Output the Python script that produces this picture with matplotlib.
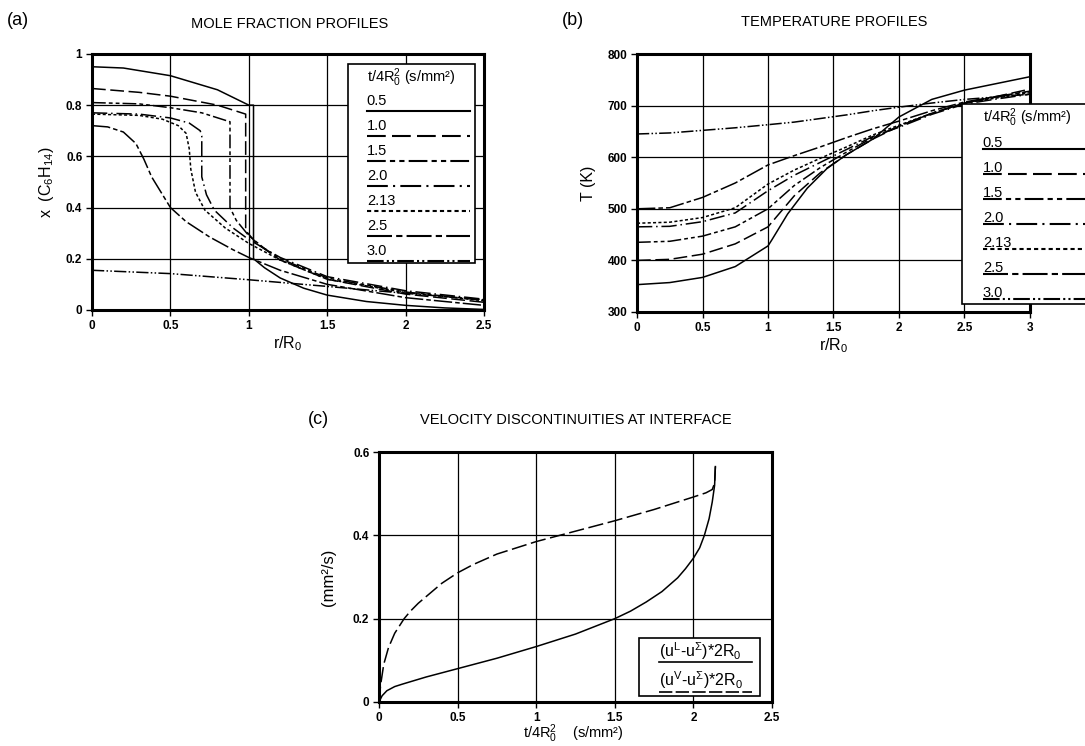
import matplotlib
matplotlib.use('Agg')
import matplotlib.pyplot as plt
from matplotlib.patches import Rectangle

plt.rcParams['font.family'] = ['Liberation Sans', 'DejaVu Sans']
plt.rcParams['mathtext.fontset'] = 'custom'
plt.rcParams['mathtext.rm'] = 'Liberation Sans'
plt.rcParams['mathtext.it'] = 'Liberation Sans'

# ---- (a) mole fraction profiles ----
times = ['0.5', '1.0', '1.5', '2.0', '2.13', '2.5', '3.0']
r_a = {
    '0.5': [0, 0.2, 0.5, 0.8, 1.0, 1.03, 1.03, 1.1, 1.2, 1.35, 1.5, 1.75, 2.0, 2.25, 2.5],
    '1.0': [0, 0.3, 0.5, 0.8, 0.98, 0.98, 1.05, 1.2, 1.5, 2.0, 2.5],
    '1.5': [0, 0.3, 0.5, 0.7, 0.88, 0.88, 0.92, 1.0, 1.1, 1.2, 1.5, 2.0, 2.5],
    '2.0': [0, 0.3, 0.5, 0.62, 0.69, 0.70, 0.70, 0.73, 0.78, 0.9, 1.0, 1.2, 1.5, 2.0, 2.5],
    '2.13': [0, 0.3, 0.45, 0.55, 0.6, 0.62, 0.63, 0.66, 0.72, 0.85, 1.0, 1.2, 1.5, 2.0, 2.5],
    '2.5': [0, 0.1, 0.2, 0.28, 0.33, 0.38, 0.45, 0.5, 0.6, 0.75, 0.9, 1.0, 1.2, 1.5, 2.0, 2.5],
    '3.0': [0, 0.5, 1.0, 1.5, 2.0, 2.5],
}
x_a = {
    '0.5': [0.95, 0.945, 0.915, 0.86, 0.80, 0.80, 0.20, 0.165, 0.125, 0.085, 0.058, 0.033, 0.018, 0.008, 0.002],
    '1.0': [0.865, 0.85, 0.835, 0.80, 0.765, 0.31, 0.26, 0.195, 0.12, 0.062, 0.03],
    '1.5': [0.81, 0.805, 0.79, 0.77, 0.735, 0.40, 0.35, 0.29, 0.24, 0.20, 0.125, 0.07, 0.038],
    '2.0': [0.77, 0.765, 0.75, 0.73, 0.70, 0.68, 0.52, 0.45, 0.39, 0.32, 0.275, 0.205, 0.13, 0.075, 0.042],
    '2.13': [0.765, 0.76, 0.745, 0.72, 0.69, 0.63, 0.55, 0.46, 0.39, 0.32, 0.26, 0.195, 0.12, 0.068, 0.036],
    '2.5': [0.72, 0.715, 0.695, 0.65, 0.59, 0.52, 0.45, 0.40, 0.345, 0.285, 0.235, 0.205, 0.155, 0.10, 0.048, 0.018],
    '3.0': [0.155, 0.142, 0.118, 0.092, 0.065, 0.04],
}

# ---- (b) temperature profiles ----
r_b05 = [0, 0.25, 0.5, 0.75, 1.0, 1.03, 1.15, 1.3, 1.45, 1.6, 1.8, 2.0, 2.25, 2.5, 2.75, 3.0]
T_b05 = [353, 357, 367, 388, 428, 440, 490, 540, 578, 605, 635, 678, 712, 730, 743, 756]
r_b = [0, 0.25, 0.5, 0.75, 1.0, 1.2, 1.4, 1.6, 1.8, 2.0, 2.25, 2.5, 2.75, 3.0]
T_b = {
    '1.0': [400, 402, 412, 432, 465, 525, 570, 605, 635, 660, 685, 705, 718, 732],
    '1.5': [435, 437, 447, 465, 500, 545, 580, 610, 638, 660, 685, 705, 717, 727],
    '2.0': [465, 466, 475, 492, 535, 565, 590, 615, 640, 658, 683, 703, 713, 722],
    '2.13': [472, 474, 483, 502, 548, 575, 598, 620, 643, 662, 685, 705, 715, 725],
    '2.5': [500, 502, 522, 550, 585, 603, 620, 638, 655, 670, 690, 707, 718, 728],
    '3.0': [645, 647, 652, 657, 663, 668, 675, 682, 690, 697, 705, 712, 717, 722],
}

# ---- (c) velocity discontinuities ----
t_L = [0, 0.01, 0.03, 0.06, 0.1, 0.16, 0.2, 0.25, 0.3, 0.4, 0.5, 0.6, 0.75, 1.0, 1.25,
       1.5, 1.75, 2.0, 2.08, 2.12, 2.135, 2.14]
u_L = [0, 0.04, 0.09, 0.13, 0.165, 0.2, 0.218, 0.237, 0.253, 0.285, 0.31, 0.33, 0.355,
       0.385, 0.41, 0.435, 0.462, 0.492, 0.502, 0.51, 0.525, 0.565]
t_V = [0, 0.02, 0.05, 0.1, 0.15, 0.3, 0.5, 0.75, 1.0, 1.25, 1.5, 1.6, 1.7, 1.8, 1.9, 1.95,
       2.0, 2.04, 2.07, 2.1, 2.12, 2.135, 2.14]
u_V = [0, 0.015, 0.027, 0.037, 0.043, 0.06, 0.08, 0.105, 0.133, 0.163, 0.2, 0.218, 0.24,
       0.265, 0.298, 0.32, 0.345, 0.37, 0.4, 0.44, 0.48, 0.52, 0.565]

xt_a = [0, 0.5, 1, 1.5, 2, 2.5]
xl_a = ['0', '0.5', '1', '1.5', '2', '2.5']
yt_a = [0, 0.2, 0.4, 0.6, 0.8, 1]
yl_a = ['0', '0.2', '0.4', '0.6', '0.8', '1']
xt_b = [0, 0.5, 1, 1.5, 2, 2.5, 3]
xl_b = ['0', '0.5', '1', '1.5', '2', '2.5', '3']
yt_b = [300, 400, 500, 600, 700, 800]
yt_c = [0, 0.2, 0.4, 0.6]
yl_c = ['0', '0.2', '0.4', '0.6']

styles = {
    '0.5': '-',
    '1.0': (0, (9, 3)),
    '1.5': (0, (9, 2, 2.5, 2, 2.5, 2)),
    '2.0': (0, (10, 2.5, 1, 2.5)),
    '2.13': (0, (2, 1.5)),
    '2.5': (0, (12, 2, 3, 2)),
    '3.0': (0, (8, 1.5, 1, 1.5, 1, 1.5)),
}
LW = 1.1

fig = plt.figure(figsize=(10.85, 7.46), dpi=100)
ax_a = fig.add_axes([0.0848, 0.5845, 0.3613, 0.3432])
ax_b = fig.add_axes([0.5871, 0.5818, 0.3622, 0.3458])
ax_c = fig.add_axes([0.3493, 0.0590, 0.3622, 0.3351])


def style_axes(ax):
    for s in ax.spines.values():
        s.set_linewidth(2.2)
    ax.grid(True, color='black', linewidth=0.9)
    ax.set_axisbelow(True)
    ax.tick_params(direction='out', length=4, width=1, labelsize=8.5, pad=3)
    for lab in ax.get_xticklabels() + ax.get_yticklabels():
        lab.set_fontweight('bold')


def draw_legend(ax, x0, x1, ytop, ybot, tx, lx1, ytitle, yfirst, step, off):
    ax.add_patch(Rectangle((x0, ybot), x1 - x0, ytop - ybot, transform=ax.transAxes,
                           facecolor='white', edgecolor='black', linewidth=1.2,
                           clip_on=False, zorder=5))
    ax.text(tx, ytitle, r't/4R$_0^2$ (s/mm²)', transform=ax.transAxes, fontsize=10.5,
            va='center', ha='left', zorder=6, clip_on=False)
    for i, k in enumerate(times):
        y = yfirst - i * step
        ax.text(tx, y, k, transform=ax.transAxes, fontsize=10.5, va='center',
                ha='left', zorder=6, clip_on=False)
        ax.plot([tx, lx1], [y - off, y - off], transform=ax.transAxes, color='black',
                linestyle=styles[k], linewidth=LW + 0.4, zorder=6, clip_on=False)


# (a)
for k in times:
    ax_a.plot(r_a[k], x_a[k], color='black', linestyle=styles[k], linewidth=LW, zorder=3)
ax_a.set_xlim(0, 2.5)
ax_a.set_ylim(0, 1)
ax_a.set_xticks(xt_a, xl_a)
ax_a.set_yticks(yt_a, yl_a)
style_axes(ax_a)
ax_a.set_xlabel(r'r/R$_0$', fontsize=11.5, labelpad=2)
ax_a.set_ylabel(r'x  (C$_6$H$_{14}$)', fontsize=11.5, labelpad=7)
draw_legend(ax_a, 0.654, 0.976, 0.961, 0.184, 0.701, 0.963,
            0.906, 0.815, 0.0977, 0.036)

# (b)
ax_b.plot(r_b05, T_b05, color='black', linestyle=styles['0.5'], linewidth=LW, zorder=3)
for k in times[1:]:
    ax_b.plot(r_b, T_b[k], color='black', linestyle=styles[k], linewidth=LW, zorder=3)
ax_b.set_xlim(0, 3)
ax_b.set_ylim(300, 800)
ax_b.set_xticks(xt_b, xl_b)
ax_b.set_yticks(yt_b)
style_axes(ax_b)
ax_b.set_xlabel(r'r/R$_0$', fontsize=11.5, labelpad=2)
ax_b.set_ylabel('T (K)', fontsize=11.5, labelpad=8)
draw_legend(ax_b, 0.828, 1.30, 0.807, 0.031, 0.880, 1.30,
            0.753, 0.655, 0.0969, 0.022)

# (c)
ax_c.plot(t_L, u_L, color='black', linestyle=(0, (10, 3)), linewidth=LW, zorder=3)
ax_c.plot(t_V, u_V, color='black', linestyle='-', linewidth=LW, zorder=3)
ax_c.set_xlim(0, 2.5)
ax_c.set_ylim(0, 0.6)
ax_c.set_xticks(xt_a, xl_a)
ax_c.set_yticks(yt_c, yl_c)
style_axes(ax_c)
ax_c.set_xlabel(r't/4R$_0^2$    (s/mm²)', fontsize=10.5)
ax_c.xaxis.set_label_coords(0.495, -0.082)
ax_c.set_ylabel('(mm²/s)', fontsize=12, labelpad=12)
ax_c.add_patch(Rectangle((0.662, 0.0235), 0.307, 0.2315, transform=ax_c.transAxes,
                         facecolor='white', edgecolor='black', linewidth=1.2, zorder=5))
ax_c.text(0.713, 0.204, r'(u$^{\mathrm{L}}$-u$^{\Sigma}$)*2R$_0$', transform=ax_c.transAxes,
          fontsize=11.5, va='center', ha='left', zorder=6)
ax_c.plot([0.713, 0.949], [0.158, 0.158], transform=ax_c.transAxes, color='black',
          linewidth=1.2, zorder=6)
ax_c.text(0.713, 0.086, r'(u$^{\mathrm{V}}$-u$^{\Sigma}$)*2R$_0$', transform=ax_c.transAxes,
          fontsize=11.5, va='center', ha='left', zorder=6)
ax_c.plot([0.713, 0.949], [0.039, 0.039], transform=ax_c.transAxes, color='black',
          linewidth=1.2, linestyle=(0, (8, 2)), zorder=6)

# panel labels and titles
fig.text(0.006, 0.973, '(a)', fontsize=13, va='center', ha='left')
fig.text(0.267, 0.968, 'MOLE FRACTION PROFILES', fontsize=10.5, va='center', ha='center')
fig.text(0.518, 0.973, '(b)', fontsize=13, va='center', ha='left')
fig.text(0.769, 0.970, 'TEMPERATURE PROFILES', fontsize=10.5, va='center', ha='center')
fig.text(0.284, 0.437, '(c)', fontsize=13, va='center', ha='left')
fig.text(0.531, 0.437, 'VELOCITY DISCONTINUITIES AT INTERFACE', fontsize=10.5,
         va='center', ha='center')

fig.savefig('out.png', dpi=100)
